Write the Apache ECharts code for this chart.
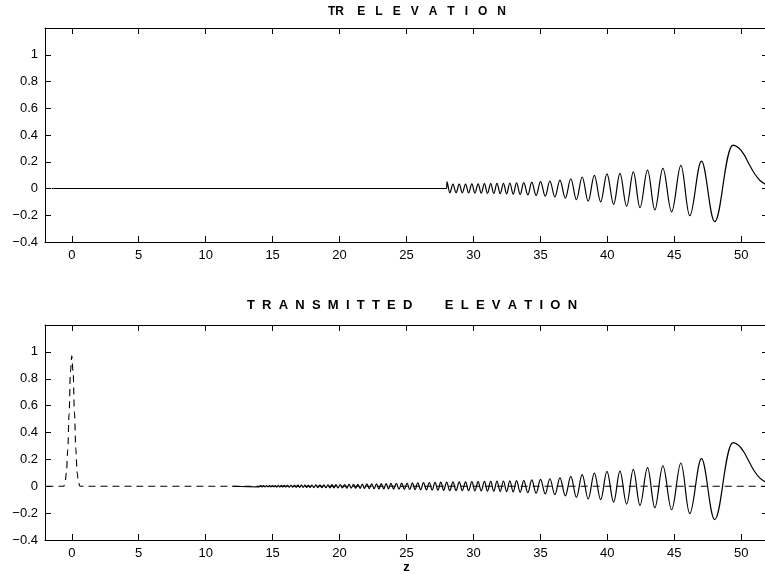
<!DOCTYPE html>
<html>
<head>
<meta charset="utf-8">
<script src="https://cdn.jsdelivr.net/npm/echarts@6/dist/echarts.min.js"></script>
<style>
html,body{margin:0;padding:0;background:#fff;}
#chart{width:765px;height:574px;}
</style>
</head>
<body>
<div id="chart"></div>
<script>
// ---- tick labels ----
const xTicks = [0, 5, 10, 15, 20, 25, 30, 35, 40, 45, 50];
const yTicks = [-0.4, -0.2, 0, 0.2, 0.4, 0.6, 0.8, 1];

// ---- shared wave extrema (both panels, z >= 28.5) ----
const waveZ = [28.47, 28.70, 28.94, 29.17, 29.41, 29.64, 29.88, 30.11, 30.35, 30.58, 30.82, 31.05, 31.29, 31.52, 31.76, 32.00, 32.24, 32.48, 32.72, 32.97, 33.22, 33.49, 33.76, 34.06, 34.36, 34.68, 35.01, 35.36, 35.71, 36.08, 36.46, 36.86, 37.27, 37.69, 38.12, 38.57, 39.03, 39.50, 39.97, 40.47, 40.94, 41.44, 41.94, 42.44, 43.00, 43.55, 44.15, 44.80, 45.49, 46.16, 47.03, 48.02, 49.39];
const waveY = [0.032, -0.032, 0.032, -0.032, 0.033, -0.033, 0.034, -0.034, 0.035, -0.035, 0.036, -0.036, 0.037, -0.037, 0.038, -0.039, 0.039, -0.040, 0.041, -0.042, 0.042, -0.045, 0.044, -0.048, 0.047, -0.052, 0.051, -0.057, 0.056, -0.063, 0.063, -0.072, 0.073, -0.083, 0.086, -0.095, 0.098, -0.100, 0.110, -0.118, 0.113, -0.133, 0.125, -0.143, 0.138, -0.160, 0.151, -0.175, 0.173, -0.203, 0.205, -0.248, 0.325];
const tailZ = [49.80, 50.20, 50.60, 51.00, 51.40, 51.80, 52.00];
const tailY = [0.305, 0.255, 0.180, 0.110, 0.060, 0.032, 0.025];

// ---- TR elevation: flat part and start spike ----
const trStartZ = [-1.5, 27.98, 28.03, 28.24];
const trStartY = [0, 0, 0.05, -0.032];

// ---- transmitted elevation: small early ripples ----
const txStartZ = [12.0,
  14.00, 14.11, 14.22, 14.33, 14.44, 14.55, 14.66, 14.77, 14.88, 14.99, 15.10, 15.21, 15.32, 15.43, 15.54, 15.65, 15.76, 15.87, 15.98,
  16.11, 16.24, 16.37, 16.50, 16.63, 16.76, 16.89, 17.02, 17.15, 17.28, 17.41, 17.54, 17.67, 17.80, 17.93,
  18.08, 18.23, 18.38, 18.53, 18.68, 18.83, 18.98, 19.13, 19.28, 19.43, 19.58, 19.73, 19.88,
  20.05, 20.21, 20.38, 20.54, 20.71, 20.87, 21.04, 21.20, 21.37, 21.53, 21.70, 21.86,
  22.04, 22.22, 22.40, 22.58, 22.76, 22.94, 23.12, 23.30, 23.48, 23.66, 23.84,
  24.04, 24.24, 24.44, 24.64, 24.84, 25.04, 25.24, 25.44, 25.64, 25.84,
  26.06, 26.27, 26.49, 26.70, 26.92, 27.13, 27.35, 27.56, 27.78, 28.00, 28.23];
const txStartY = [0,
  -0.004, 0.004, -0.004, 0.004, -0.005, 0.005, -0.005, 0.005, -0.005, 0.005, -0.005, 0.005, -0.006, 0.006, -0.006, 0.006, -0.006, 0.006, -0.006,
  0.007, -0.007, 0.007, -0.007, 0.007, -0.008, 0.008, -0.008, 0.008, -0.008, 0.009, -0.009, 0.009, -0.009, 0.009,
  -0.010, 0.010, -0.010, 0.010, -0.011, 0.011, -0.011, 0.011, -0.012, 0.012, -0.012, 0.012, -0.012,
  0.013, -0.013, 0.013, -0.014, 0.014, -0.014, 0.015, -0.015, 0.015, -0.016, 0.016, -0.016,
  0.017, -0.017, 0.018, -0.018, 0.018, -0.019, 0.019, -0.020, 0.020, -0.020, 0.021,
  -0.021, 0.022, -0.022, 0.023, -0.023, 0.024, -0.024, 0.025, -0.025, 0.026,
  -0.026, 0.027, -0.027, 0.028, -0.028, 0.029, -0.029, 0.030, -0.030, 0.031, -0.032];

// ---- incident pulse (dashed) ----
const pulseZ = [-1.9, -0.6, -0.5, -0.4, -0.3, -0.2, -0.1, 0.0, 0.1, 0.2, 0.3, 0.4, 0.5, 0.6, 52.0];
const pulseY = [0, 0, 0.03, 0.10, 0.27, 0.54, 0.85, 0.97, 0.85, 0.55, 0.28, 0.10, 0.03, 0, 0];

// ---- titles ----
const titleTop = 'TR    E   L   E   V   A   T   I   O   N';
const titleBottom = 'T  R  A  N  S  M  I  T  T  E  D         E  L  E  V  A  T  I  O  N';
const xName = 'z';

function pairs(zs, ys) { return zs.map((z, i) => [z, ys[i]]); }

const trData = pairs(trStartZ, trStartY).concat(pairs(waveZ, waveY), pairs(tailZ, tailY));
const txData = pairs(txStartZ, txStartY).concat(pairs(waveZ, waveY), pairs(tailZ, tailY));
const pulseData = pairs(pulseZ, pulseY);

const FONT = "'Liberation Sans', Arial, Helvetica, sans-serif";
const fmtY = v => String(Math.round(v * 10) / 10).replace('-', '\u2212');

function xAxes(gi) {
  return [
    {
      type: 'value', gridIndex: gi, position: 'bottom', min: -2, max: 52,
      axisLine: { show: true, onZero: false, lineStyle: { color: '#000', width: 1 } },
      axisTick: { show: true, inside: true, length: 6, customValues: xTicks, lineStyle: { color: '#000' } },
      axisLabel: { show: true, customValues: xTicks, color: '#000', fontFamily: FONT, fontSize: 13, margin: 7 },
      splitLine: { show: false },
      name: gi === 1 ? xName : '', nameLocation: 'middle', nameGap: 13,
      nameTextStyle: { color: '#000', fontFamily: FONT, fontSize: 13, fontWeight: 'bold' }
    },
    {
      type: 'value', gridIndex: gi, position: 'top', min: -2, max: 52,
      axisLine: { show: true, onZero: false, lineStyle: { color: '#000', width: 1 } },
      axisTick: { show: true, inside: true, length: 6, customValues: xTicks, lineStyle: { color: '#000' } },
      axisLabel: { show: false },
      splitLine: { show: false }
    }
  ];
}
function yAxes(gi) {
  return [
    {
      type: 'value', gridIndex: gi, position: 'left', min: -0.4, max: 1.2, interval: 0.2,
      axisLine: { show: true, onZero: false, lineStyle: { color: '#000', width: 1 } },
      axisTick: { show: true, inside: true, length: 6, customValues: yTicks, lineStyle: { color: '#000' } },
      axisLabel: { show: true, customValues: yTicks, formatter: fmtY, color: '#000', fontFamily: FONT, fontSize: 13, margin: 7 },
      splitLine: { show: false }
    },
    {
      type: 'value', gridIndex: gi, position: 'right', min: -0.4, max: 1.2, interval: 0.2,
      axisLine: { show: true, onZero: false, lineStyle: { color: '#000', width: 1 } },
      axisTick: { show: true, inside: true, length: 6, customValues: yTicks, lineStyle: { color: '#000' } },
      axisLabel: { show: false },
      splitLine: { show: false }
    }
  ];
}

const chart = echarts.init(document.getElementById('chart'), null, { renderer: 'canvas' });
chart.setOption({
  animation: false,
  backgroundColor: '#fff',
  grid: [
    { left: 45, top: 28, width: 723, height: 214, containLabel: false, outerBoundsMode: 'none' },
    { left: 45, top: 325, width: 723, height: 215, containLabel: false, outerBoundsMode: 'none' }
  ],
  xAxis: xAxes(0).concat(xAxes(1)),
  yAxis: yAxes(0).concat(yAxes(1)),
  graphic: [
    { type: 'text', x: 417, y: 12, style: { text: titleTop, fill: '#000', font: "bold 12px " + FONT, textAlign: 'center', textVerticalAlign: 'middle' } },
    { type: 'text', x: 412, y: 305, style: { text: titleBottom, fill: '#000', font: "bold 13px " + FONT, textAlign: 'center', textVerticalAlign: 'middle' } }
  ],
  series: [
    {
      type: 'line', xAxisIndex: 0, yAxisIndex: 0, data: trData, showSymbol: false, symbol: 'none',
      smooth: 0.37, lineStyle: { color: '#000', width: 1.2 }, clip: true
    },
    {
      type: 'line', xAxisIndex: 2, yAxisIndex: 2, data: pulseData, showSymbol: false, symbol: 'none',
      smooth: 0.37, smoothMonotone: 'x', lineStyle: { color: '#000', width: 1.1, type: [7, 5] }, clip: true
    },
    {
      type: 'line', xAxisIndex: 2, yAxisIndex: 2, data: txData, showSymbol: false, symbol: 'none',
      smooth: 0.37, lineStyle: { color: '#000', width: 1.2 }, clip: true
    }
  ]
});
</script>
</body>
</html>
